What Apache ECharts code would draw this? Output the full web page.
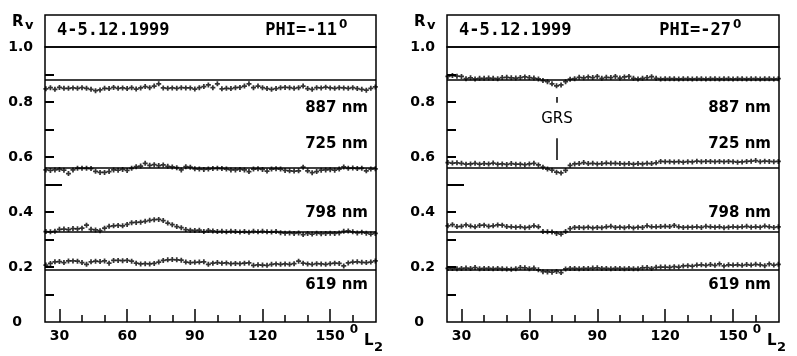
<!DOCTYPE html>
<html>
<head>
<meta charset="utf-8">
<script src="https://cdn.jsdelivr.net/npm/echarts@6/dist/echarts.min.js"></script>
<style>
  html, body { margin: 0; padding: 0; background: #fff; }
  #chart { width: 797px; height: 356px; }
</style>
</head>
<body>
<div id="chart"></div>
<script>
// System III longitude L2 (degrees) of each reflectance sample
const longitudes = [24,26,28,30,32,34,36,38,40,42,
  44,46,48,50,52,54,56,58,60,62,
  64,66,68,70,72,74,76,78,80,82,
  84,86,88,90,92,94,96,98,100,102,
  104,106,108,110,112,114,116,118,120,122,
  124,126,128,130,132,134,136,138,140,142,
  144,146,148,150,152,154,156,158,160,162,
  164,166,168,170];

// PHI = -11 deg
const left887 = [0.848,0.852,0.846,0.853,0.850,0.850,0.851,0.850,0.852,0.850,
  0.846,0.841,0.844,0.850,0.849,0.853,0.850,0.851,0.849,0.852,
  0.847,0.851,0.856,0.852,0.858,0.866,0.851,0.850,0.851,0.850,
  0.852,0.851,0.851,0.847,0.852,0.856,0.862,0.852,0.866,0.848,
  0.850,0.849,0.852,0.853,0.858,0.866,0.852,0.858,0.852,0.849,
  0.846,0.849,0.852,0.853,0.852,0.850,0.852,0.858,0.849,0.846,
  0.852,0.851,0.854,0.851,0.850,0.852,0.851,0.850,0.852,0.849,
  0.846,0.843,0.850,0.855];
const left725 = [0.553,0.551,0.553,0.555,0.552,0.540,0.553,0.559,0.559,0.559,
  0.558,0.548,0.544,0.544,0.547,0.553,0.552,0.555,0.551,0.559,
  0.565,0.567,0.577,0.570,0.572,0.569,0.571,0.566,0.564,0.561,
  0.553,0.565,0.563,0.557,0.556,0.555,0.556,0.558,0.559,0.558,
  0.556,0.553,0.553,0.555,0.553,0.547,0.556,0.557,0.555,0.549,
  0.556,0.557,0.556,0.551,0.550,0.549,0.550,0.563,0.550,0.543,
  0.547,0.552,0.553,0.554,0.552,0.556,0.564,0.559,0.560,0.558,
  0.559,0.550,0.556,0.557];
const left798 = [0.329,0.328,0.330,0.337,0.338,0.336,0.340,0.339,0.341,0.352,
  0.337,0.335,0.332,0.341,0.348,0.350,0.351,0.350,0.355,0.361,
  0.362,0.363,0.366,0.370,0.372,0.373,0.369,0.360,0.354,0.347,
  0.343,0.336,0.334,0.333,0.334,0.329,0.333,0.331,0.329,0.330,
  0.328,0.330,0.329,0.327,0.329,0.326,0.330,0.328,0.330,0.328,
  0.327,0.329,0.325,0.323,0.324,0.322,0.324,0.318,0.322,0.320,
  0.323,0.321,0.322,0.323,0.322,0.324,0.330,0.331,0.328,0.324,
  0.326,0.323,0.320,0.322];
const left619 = [0.207,0.213,0.219,0.220,0.216,0.222,0.222,0.221,0.216,0.210,
  0.219,0.221,0.220,0.222,0.214,0.224,0.224,0.223,0.224,0.221,
  0.214,0.211,0.212,0.211,0.213,0.218,0.224,0.226,0.227,0.226,
  0.225,0.218,0.216,0.217,0.218,0.219,0.210,0.214,0.216,0.214,
  0.215,0.212,0.213,0.212,0.214,0.215,0.206,0.208,0.207,0.206,
  0.210,0.211,0.210,0.211,0.210,0.212,0.221,0.214,0.211,0.210,
  0.212,0.211,0.210,0.212,0.214,0.213,0.204,0.215,0.218,0.219,
  0.217,0.216,0.218,0.222];

// PHI = -27 deg
const right887 = [0.893,0.896,0.894,0.893,0.885,0.888,0.884,0.886,0.886,0.887,
  0.886,0.885,0.889,0.890,0.888,0.887,0.889,0.891,0.889,0.887,
  0.884,0.878,0.874,0.866,0.859,0.862,0.874,0.883,0.885,0.890,
  0.888,0.891,0.889,0.893,0.886,0.890,0.889,0.893,0.887,0.891,
  0.893,0.886,0.884,0.886,0.889,0.892,0.886,0.884,0.885,0.885,
  0.885,0.884,0.885,0.885,0.884,0.885,0.885,0.884,0.885,0.885,
  0.884,0.885,0.885,0.884,0.885,0.885,0.884,0.885,0.885,0.884,
  0.885,0.885,0.884,0.885];
const right725 = [0.580,0.578,0.579,0.577,0.574,0.575,0.577,0.574,0.576,0.575,
  0.578,0.574,0.575,0.573,0.576,0.574,0.574,0.572,0.575,0.577,
  0.571,0.563,0.556,0.552,0.545,0.542,0.551,0.570,0.575,0.576,
  0.580,0.576,0.577,0.575,0.576,0.578,0.577,0.577,0.576,0.575,
  0.576,0.574,0.576,0.575,0.577,0.576,0.579,0.584,0.583,0.583,
  0.582,0.583,0.581,0.583,0.582,0.585,0.583,0.584,0.584,0.583,
  0.584,0.583,0.584,0.583,0.581,0.582,0.584,0.585,0.587,0.583,
  0.585,0.584,0.583,0.584];
const right798 = [0.350,0.354,0.347,0.348,0.353,0.349,0.346,0.351,0.352,0.348,
  0.350,0.353,0.352,0.347,0.346,0.345,0.346,0.343,0.345,0.350,
  0.346,0.329,0.328,0.327,0.322,0.320,0.329,0.340,0.344,0.344,
  0.343,0.345,0.342,0.344,0.343,0.346,0.348,0.344,0.345,0.343,
  0.346,0.342,0.345,0.344,0.350,0.346,0.346,0.347,0.348,0.347,
  0.351,0.346,0.344,0.345,0.345,0.346,0.344,0.348,0.346,0.345,
  0.346,0.343,0.345,0.346,0.345,0.346,0.348,0.345,0.346,0.345,
  0.349,0.346,0.344,0.346];
const right619 = [0.195,0.195,0.194,0.195,0.196,0.195,0.198,0.194,0.195,0.195,
  0.194,0.195,0.194,0.193,0.192,0.194,0.198,0.197,0.194,0.196,
  0.190,0.183,0.182,0.181,0.184,0.180,0.193,0.195,0.195,0.194,
  0.195,0.195,0.196,0.197,0.195,0.195,0.194,0.195,0.195,0.194,
  0.195,0.194,0.194,0.197,0.198,0.195,0.199,0.200,0.200,0.199,
  0.201,0.200,0.204,0.205,0.203,0.207,0.208,0.206,0.209,0.206,
  0.211,0.204,0.208,0.207,0.208,0.206,0.209,0.207,0.210,0.208,
  0.205,0.211,0.207,0.210];

// Reference levels drawn as horizontal lines (887, 725, 798, 619 nm)
const leftRef = [0.876, 0.561, 0.331, 0.193];
const rightRef = [0.877, 0.559, 0.331, 0.193];
const wavelengths = ['887 nm', '725 nm', '798 nm', '619 nm'];

const yTickLabels = [0, 0.2, 0.4, 0.6, 0.8, 1.0];
const yTicks = [0.1, 0.2, 0.3, 0.4, 0.6, 0.7, 0.8, 0.9];
const yMidTick = 0.5;
const xTickLabels = [30, 60, 90, 120, 150];
const xMinorTicks = [40, 50, 70, 80, 100, 110, 130, 140, 160];

// Great Red Spot longitude and its marker segments
const GRS_LON = 72;
const GRS_TICK = [0.818, 0.797];
const GRS_BAR = [0.668, 0.589];

const X_MIN = 23.6, X_MAX = 170.3;
const Y_TICK_PX = 9, Y_MID_TICK_PX = 17;
const FONT = 'DejaVu Sans';
const MONO = 'DejaVu Sans Mono';
const PLUS = 'path://M2.6,0H5.4V2.6H8V5.4H5.4V8H2.6V5.4H0V2.6H2.6Z';
const INK = '#000';

const panels = [
  { left: 45, width: 331, date: '4-5.12.1999', phi: 'PHI=-11', phiRight: 337,
    series: [left887, left725, left798, left619], refs: leftRef },
  { left: 447, width: 332, date: '4-5.12.1999', phi: 'PHI=-27', phiRight: 731,
    series: [right887, right725, right798, right619], refs: rightRef }
];
const GRID_TOP = 47, GRID_H = 275, HEAD_TOP = 15;
const labelY = [108, 144, 213, 285];

const grids = [], xAxes = [], yAxes = [], series = [], graphics = [];
const tickLine = { color: INK, width: 1.5 };

panels.forEach((p, i) => {
  grids.push({ left: p.left, top: GRID_TOP, width: p.width, height: GRID_H,
    show: true, borderColor: INK, borderWidth: 1.5, backgroundColor: 'transparent' });

  xAxes.push({
    gridIndex: i, type: 'value', min: X_MIN, max: X_MAX, position: 'bottom',
    axisLine: { show: false }, splitLine: { show: false },
    axisTick: { show: true, inside: true, length: 13, customValues: xTickLabels, lineStyle: tickLine },
    axisLabel: { customValues: xTickLabels, margin: 7, color: INK, fontFamily: FONT,
      fontWeight: 'bold', fontSize: 14 }
  });
  xAxes.push({
    gridIndex: i, type: 'value', min: X_MIN, max: X_MAX, position: 'bottom',
    axisLine: { show: false }, splitLine: { show: false },
    axisTick: { show: true, inside: true, length: 7, customValues: xMinorTicks, lineStyle: tickLine },
    axisLabel: { show: false }
  });

  // reflectance scale; its ticks and labels are placed below through this axis
  yAxes.push({
    gridIndex: i, type: 'value', min: 0, max: 1, position: 'left',
    axisLine: { show: false }, splitLine: { show: false },
    axisTick: { show: false }, axisLabel: { show: false }
  });

  p.series.forEach((vals, j) => {
    const lines = [{ yAxis: p.refs[j] }];
    if (i === 1 && j === 0) {
      lines.push([{ coord: [GRS_LON, GRS_TICK[0]] }, { coord: [GRS_LON, GRS_TICK[1]] }]);
      lines.push([{ coord: [GRS_LON, GRS_BAR[0]] }, { coord: [GRS_LON, GRS_BAR[1]] }]);
    }
    series.push({
      type: 'scatter', name: wavelengths[j], xAxisIndex: 2 * i, yAxisIndex: i,
      symbol: PLUS, symbolSize: 5, itemStyle: { color: INK },
      data: longitudes.map((x, k) => [x, vals[k]]),
      markLine: {
        silent: true, symbol: 'none', animation: false,
        label: { show: false },
        lineStyle: { color: INK, width: 1.5, type: 'solid' },
        data: lines
      }
    });
    graphics.push({ type: 'text', style: { text: wavelengths[j], x: p.left + p.width - 8, y: labelY[j],
      align: 'right', verticalAlign: 'middle', textAlign: 'right', textVerticalAlign: 'middle',
      fill: INK, font: 'bold 15px "' + FONT + '"' } });
  });

  // header strip
  graphics.push({ type: 'rect', shape: { x: p.left, y: HEAD_TOP, width: p.width, height: GRID_TOP - HEAD_TOP },
    style: { fill: 'none', stroke: INK, lineWidth: 1.5 } });
  graphics.push({ type: 'text', style: { text: p.date, x: p.left + 12, y: 31,
    align: 'left', verticalAlign: 'middle', textAlign: 'left', textVerticalAlign: 'middle',
    fill: INK, font: 'bold 17px "' + MONO + '"' } });
  graphics.push({ type: 'text', style: { text: p.phi, x: p.phiRight, y: 31,
    align: 'right', verticalAlign: 'middle', textAlign: 'right', textVerticalAlign: 'middle',
    fill: INK, font: 'bold 17px "' + MONO + '"' } });
  graphics.push({ type: 'text', style: { text: '0', x: p.phiRight + 2, y: 25,
    align: 'left', verticalAlign: 'middle', textAlign: 'left', textVerticalAlign: 'middle',
    fill: INK, font: 'bold 12px "' + FONT + '"' } });

  // R_v axis title
  graphics.push({ type: 'text', style: { text: 'R', x: p.left - 33, y: 22,
    align: 'left', verticalAlign: 'middle', textAlign: 'left', textVerticalAlign: 'middle',
    fill: INK, font: 'bold 15px "' + FONT + '"' } });
  graphics.push({ type: 'text', style: { text: 'v', x: p.left - 20, y: 26,
    align: 'left', verticalAlign: 'middle', textAlign: 'left', textVerticalAlign: 'middle',
    fill: INK, font: 'bold 13px "' + FONT + '"' } });

  // degree mark and L2 axis title
  const right = p.left + p.width;
  graphics.push({ type: 'text', style: { text: '0', x: right - 22, y: 330,
    align: 'center', verticalAlign: 'middle', textAlign: 'center', textVerticalAlign: 'middle',
    fill: INK, font: 'bold 12px "' + FONT + '"' } });
  graphics.push({ type: 'text', style: { text: 'L', x: right - 12, y: 341,
    align: 'left', verticalAlign: 'middle', textAlign: 'left', textVerticalAlign: 'middle',
    fill: INK, font: 'bold 15px "' + FONT + '"' } });
  graphics.push({ type: 'text', style: { text: '2', x: right - 2, y: 348,
    align: 'left', verticalAlign: 'middle', textAlign: 'left', textVerticalAlign: 'middle',
    fill: INK, font: 'bold 13px "' + FONT + '"' } });
});

// GRS annotation text
graphics.push({ type: 'text', style: { text: 'GRS', x: 557, y: 119,
  align: 'center', verticalAlign: 'middle', textAlign: 'center', textVerticalAlign: 'middle',
  fill: INK, font: '15px "' + FONT + '"' } });

const chart = echarts.init(document.getElementById('chart'), null, { renderer: 'canvas' });
chart.setOption({
  backgroundColor: '#fff',
  animation: false,
  grid: grids,
  xAxis: xAxes,
  yAxis: yAxes,
  series: series,
  graphic: graphics
});

// reflectance-axis ticks and labels, positioned through the axis scale
const axisMarks = [];
panels.forEach((p, i) => {
  const toY = v => chart.convertToPixel({ yAxisIndex: i }, v);
  const addTick = (v, len) => {
    axisMarks.push({ type: 'rect', z: 100,
      shape: { x: p.left, y: Math.round(toY(v)) - 1, width: len, height: 2 },
      style: { fill: INK } });
  };
  yTicks.forEach(v => addTick(v, Y_TICK_PX));
  addTick(yMidTick, Y_MID_TICK_PX);
  yTickLabels.forEach(v => {
    axisMarks.push({ type: 'text', z: 100, style: {
      text: v === 0 ? '0' : v.toFixed(1),
      x: v === 0 ? p.left - 23 : p.left - 12, y: toY(v),
      align: 'right', verticalAlign: 'middle', textAlign: 'right', textVerticalAlign: 'middle',
      fill: INK, font: 'bold 14px "' + FONT + '"' } });
  });
});
chart.setOption({ graphic: graphics.concat(axisMarks) });
</script>
</body>
</html>
